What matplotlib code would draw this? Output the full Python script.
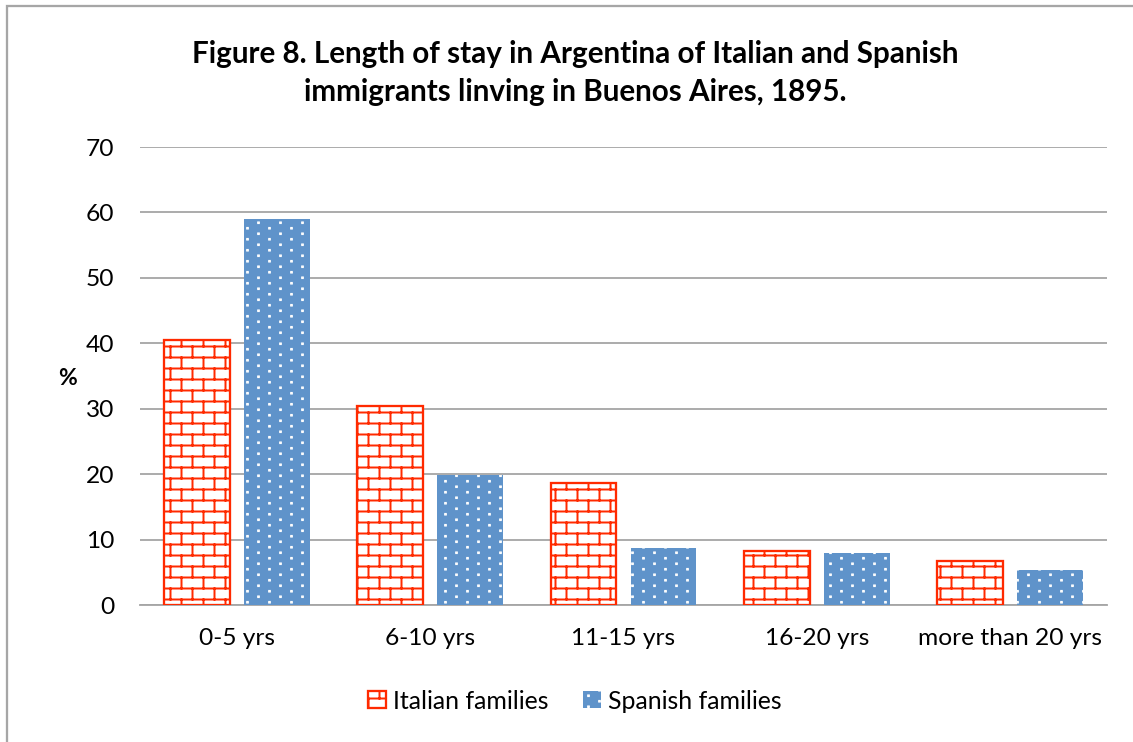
import warnings
import numpy as np
import matplotlib
matplotlib.use('Agg')
import matplotlib.pyplot as plt
import matplotlib.hatch as mhatch
from matplotlib.path import Path
from matplotlib.patches import Rectangle

warnings.filterwarnings('ignore')

categories = ['0-5 yrs', '6-10 yrs', '11-15 yrs', '16-20 yrs', 'more than 20 yrs']
italian = [40.5, 30.4, 18.6, 8.2, 6.7]
spanish = [59.0, 19.9, 8.7, 7.9, 5.3]


# brick wall hatch ('b'): 10 courses and 5 bricks per hatch tile
class BrickHatch(mhatch.HatchPatternBase):
    rows = 10
    cols = 5

    def __init__(self, hatch, density):
        self.on = 'b' in hatch
        self.num_vertices = (self.rows * (1 + self.cols) + self.cols) * 2 if self.on else 0

    def set_vertices_and_codes(self, vertices, codes):
        i = 0
        for k in range(self.rows):
            y0 = (k + 0.5) / self.rows
            y1 = (k + 1.5) / self.rows
            vertices[i] = (0, y0)
            vertices[i + 1] = (1, y0)
            i += 2
            for j in range(self.cols):
                x = (j + 0.25 + 0.5 * (k % 2)) / self.cols
                vertices[i] = (x, y0)
                vertices[i + 1] = (x, y1)
                i += 2
        # last course wraps round to the bottom of the tile
        k = self.rows - 1
        for j in range(self.cols):
            x = (j + 0.25 + 0.5 * (k % 2)) / self.cols
            vertices[i] = (x, 0)
            vertices[i + 1] = (x, 0.5 / self.rows)
            i += 2
        codes[0::2] = Path.MOVETO
        codes[1::2] = Path.LINETO


# small staggered dots hatch ('d')
class DotHatch(mhatch.HatchPatternBase):
    rows = 20
    cols = 5
    s = 0.003

    def __init__(self, hatch, density):
        self.on = 'd' in hatch
        self.num_vertices = self.rows * self.cols * 5 if self.on else 0

    def set_vertices_and_codes(self, vertices, codes):
        i = 0
        s = self.s
        for k in range(self.rows):
            y = (k + 0.5) / self.rows
            for j in range(self.cols):
                x = (j + 0.25 + 0.5 * (k % 2)) / self.cols
                vertices[i:i + 5] = [(x - s, y - s), (x + s, y - s), (x + s, y + s),
                                     (x - s, y + s), (x - s, y - s)]
                codes[i:i + 5] = [Path.MOVETO, Path.LINETO, Path.LINETO,
                                  Path.LINETO, Path.CLOSEPOLY]
                i += 5


mhatch._hatch_types.extend([BrickHatch, DotHatch])

plt.rcParams['font.family'] = ['Lato', 'DejaVu Sans']
plt.rcParams['hatch.linewidth'] = 1.3

red = '#ff2a00'
blue = '#5f93ca'
grey = '#a6a6a6'

fig = plt.figure(figsize=(10.30001, 6.7455), dpi=110)
ax = fig.add_axes([140 / 1133, 1 - 605 / 742, (1107 - 140) / 1133, (605 - 147) / 742])

x = np.arange(len(categories))
ax.bar(x - 0.207, italian, 0.34, facecolor='white', edgecolor=red, hatch='b',
       linewidth=1.5, label='Italian families', zorder=3)
ax.bar(x + 0.207, spanish, 0.34, facecolor=blue, edgecolor='white', hatch='d',
       linewidth=0, label='Spanish families', zorder=3)

ax.set_xlim(-0.5, 4.5)
ax.set_ylim(0, 70)
ax.set_yticks(range(0, 71, 10))
ax.set_xticks(x)
ax.set_xticklabels(categories)
ax.yaxis.grid(True, color=grey, linewidth=1.2, zorder=0)
ax.set_axisbelow(True)
for side in ['top', 'right', 'left']:
    ax.spines[side].set_visible(False)
ax.spines['bottom'].set_color(grey)
ax.spines['bottom'].set_linewidth(1.2)
ax.tick_params(axis='both', length=0, labelsize=16)
ax.tick_params(axis='y', pad=17)
ax.tick_params(axis='x', pad=15)

fig.text(67 / 1133, 1 - 378 / 742, '%', fontsize=15, fontweight='bold',
         ha='center', va='center')

fig.text(575 / 1133, 1 - 73 / 742,
         'Figure 8. Length of stay in Argentina of Italian and Spanish\nimmigrants linving in Buenos Aires, 1895.',
         fontsize=19.4, fontweight='bold', ha='center', va='center',
         multialignment='center', linespacing=1.45)

fig.legend(loc='center', bbox_to_anchor=(575 / 1133, 1 - 701 / 742), ncol=2,
           frameon=False, fontsize=16.3, handlelength=0.7, handleheight=0.7,
           handletextpad=0.3, columnspacing=1.4)

fig.patches.append(Rectangle((7 / 1133, -0.1), 1.2, 1.1 - 6 / 742, fill=False,
                             edgecolor=grey, linewidth=1.5,
                             transform=fig.transFigure, figure=fig))

fig.savefig('out.png', dpi=110)
